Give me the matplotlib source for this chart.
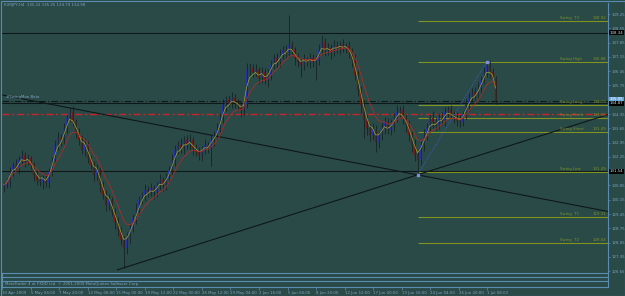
import numpy as np
import pandas as pd
import matplotlib
matplotlib.use("Agg")
import matplotlib.pyplot as plt
from matplotlib.transforms import blended_transform_factory

# ===============================
# Data (EURJPY H4)
# ===============================
FIRST_OPEN = 130.75

CLOSES = [
    130.88, 131.02, 131.51, 131.86, 131.71, 132.10, 132.35, 132.00, 132.20, 131.86, 131.37, 131.12, 131.02, 131.22, 130.97,
    131.51, 132.10, 132.84, 133.18, 133.08, 133.67, 134.16, 134.45, 133.96, 133.47, 133.08, 132.59, 132.84, 132.20, 131.86,
    131.37, 131.61, 130.88, 130.39, 129.90, 130.14, 129.55, 129.06, 128.67, 128.18, 127.79, 128.28, 128.77, 129.26, 129.65,
    130.14, 130.39, 130.63, 130.53, 130.73, 130.53, 130.83, 131.12, 130.88, 131.22, 131.61, 132.10, 132.59, 132.84, 132.69,
    133.08, 132.84, 133.08, 132.69, 132.49, 132.35, 132.59, 132.84, 132.69, 133.08, 133.33, 133.57, 134.16, 134.80, 135.04,
    134.89, 135.14, 134.94, 134.75, 134.55, 134.84, 136.51, 136.61, 136.41, 136.51, 136.12, 136.41, 136.02, 136.27, 136.76,
    137.10, 136.90, 137.25, 137.49, 137.39, 137.74, 137.49, 137.10, 136.90, 136.76, 137.00, 136.90, 137.10, 136.90, 137.00,
    137.49, 137.88, 137.49, 137.59, 137.39, 137.69, 137.59, 137.74, 137.59, 137.69, 137.39, 137.00, 136.27, 135.53, 134.80,
    134.06, 133.67, 133.33, 133.57, 132.98, 133.33, 133.67, 133.96, 133.57, 133.82, 134.16, 134.45, 134.55, 134.16, 133.82,
    133.33, 132.84, 132.35, 132.10, 132.84, 133.33, 133.67, 134.16, 133.96, 133.82, 134.16, 134.06, 134.45, 134.55, 134.31,
    134.16, 134.06, 133.96, 134.31, 134.80, 135.14, 135.43, 135.29, 135.63, 136.02, 136.41, 136.71, 136.41, 136.12, 134.98,
]

UP_WICK = [
    0.15, 0.20, 0.25, 0.15, 0.30, 0.20, 0.25, 0.15, 0.20, 0.10, 0.15, 0.25, 0.20, 0.15, 0.20,
    0.20, 0.15, 0.25, 0.30, 0.20, 0.25, 0.15, 0.20, 0.30, 0.15, 0.20, 0.25, 0.35, 0.20, 0.15,
    0.20, 0.30, 0.15, 0.20, 0.25, 0.30, 0.15, 0.20, 0.25, 0.15, 0.20, 0.30, 0.25, 0.20, 0.35,
    0.20, 0.15, 0.30, 0.20, 0.25, 0.15, 0.20, 0.30, 0.15, 0.25, 0.20, 0.30, 0.25, 0.20, 0.35,
    0.20, 0.25, 0.30, 0.15, 0.20, 0.25, 0.20, 0.30, 0.15, 0.25, 0.20, 0.35, 0.25, 0.30, 0.20,
    0.25, 0.30, 0.20, 0.15, 0.25, 0.20, 0.35, 0.25, 0.20, 0.30, 0.15, 0.25, 0.20, 0.30, 0.25,
    0.20, 0.25, 0.30, 0.20, 0.25, 1.46, 0.20, 0.15, 0.25, 0.20, 0.30, 0.15, 0.25, 0.20, 0.25,
    0.30, 0.35, 0.20, 0.25, 0.20, 0.30, 0.25, 0.20, 0.30, 0.15, 0.25, 0.20, 0.30, 0.25, 0.20,
    0.25, 0.30, 0.20, 0.35, 0.25, 0.20, 0.30, 0.25, 0.20, 0.30, 0.25, 0.35, 0.20, 0.25, 0.20,
    0.25, 0.20, 0.30, 0.25, 0.20, 0.30, 0.25, 0.20, 0.35, 0.25, 0.20, 0.30, 0.25, 0.20, 0.25,
    0.20, 0.30, 0.25, 0.20, 0.30, 0.25, 0.20, 0.25, 0.30, 0.20, 0.25, 0.19, 0.25, 0.20, 0.10,
]

DOWN_WICK = [
    0.20, 0.15, 0.25, 0.20, 0.15, 0.30, 0.20, 0.25, 0.15, 0.20, 0.30, 0.25, 0.20, 0.35, 0.20,
    0.25, 0.20, 0.15, 0.25, 0.30, 0.20, 0.25, 0.15, 0.20, 0.30, 0.25, 0.20, 0.30, 0.25, 0.20,
    0.30, 0.25, 0.35, 0.20, 0.30, 0.25, 0.20, 0.35, 0.30, 0.25, 0.98, 0.30, 0.25, 0.20, 0.30,
    0.25, 0.20, 0.30, 0.25, 0.20, 0.35, 0.25, 0.20, 0.30, 0.25, 0.20, 0.25, 0.30, 0.20, 0.25,
    0.30, 0.20, 0.25, 0.35, 0.20, 0.25, 0.30, 0.20, 0.25, 0.90, 0.30, 0.25, 0.20, 0.25, 0.30,
    0.20, 0.25, 0.30, 0.20, 0.35, 0.25, 0.20, 0.30, 0.25, 0.20, 0.30, 0.25, 0.20, 0.35, 0.25,
    0.20, 0.30, 0.25, 0.20, 0.30, 0.25, 0.20, 0.35, 0.25, 0.60, 0.25, 0.20, 0.30, 0.25, 0.90,
    0.25, 0.20, 0.30, 0.25, 0.35, 0.20, 0.25, 0.30, 0.20, 0.25, 0.30, 0.35, 0.25, 0.30, 0.40,
    0.90, 0.35, 0.30, 0.25, 0.50, 0.30, 0.25, 0.30, 0.20, 0.25, 0.30, 0.20, 0.25, 0.30, 0.35,
    0.30, 0.35, 0.30, 0.73, 0.25, 0.30, 0.25, 0.20, 0.30, 0.25, 0.20, 0.25, 0.30, 0.25, 0.20,
    0.25, 0.30, 0.25, 0.20, 0.25, 0.30, 0.20, 0.25, 0.20, 0.25, 0.20, 0.25, 0.30, 0.25, 0.15,
]

# swing levels drawn from the swing-low bar to the right edge
SWING_NAMES = ["Swing  T3", "Swing High", "Swing Long", "Swing Profit", "Swing Short",
               "Swing Low", "Swing  T1", "Swing  T2"]
SWING_LEVELS = [138.92, 136.88, 134.79, 134.16, 133.49, 131.49, 129.31, 128.04]
SWING_LOW_BAR = 138
SWING_HIGH_BAR = 161

# plain horizontal lines
SOLID_LEVELS = [138.34, 134.87, 131.54]
BID_LEVEL = 134.98
RED_LEVEL = 134.35

# trendlines: (bar, price) anchors
TREND_DOWN = [(22, 134.65), (138, 131.37)]
TREND_UP = [(40, 126.81), (138, 131.37)]
TREND_UP_START = 38

PRICE_TICKS = [139.25, 138.55, 137.85, 137.15, 136.45, 135.75, 135.05, 134.35, 133.65,
               132.95, 132.25, 131.55, 130.85, 130.15, 129.45, 128.75, 128.05, 127.35, 126.65]
# ticks hidden behind the price boxes
HIDDEN_TICKS = [135.05, 131.55]

TIME_LABELS = ["30 Apr 2009", "5 May 04:00", "7 May 20:00", "12 May 08:00", "15 May 00:00",
               "19 May 12:00", "22 May 00:00", "26 May 12:00", "29 May 04:00", "2 Jun 16:00",
               "5 Jun 08:00", "8 Jun 20:00", "12 Jun 12:00", "17 Jun 00:00", "19 Jun 16:00",
               "24 Jun 04:00", "26 Jun 20:00", "1 Jul 08:00"]

# ===============================
# Colours
# ===============================
BG = "#2a4a48"
FRAME = "#5a8cb0"
TXT = "#7ea3bf"
OLIVE = "#7f9222"
UP_C = "#2234a8"
DN_C = "#6e1b16"
WICK_C = "#121c1c"
BLACK_L = "#0e1818"
FS = 2.8

W, H = 625, 296


def fx(px):
    return px / W


def fy(py):
    return 1 - py / H


fig = plt.figure(figsize=(W / 100, H / 100), dpi=100, facecolor=BG)

XMIN, XMAX = -0.5, 201.5

# ===============================
# Main price window
# ===============================
ax = fig.add_axes([fx(2), fy(273), fx(608) - fx(2), fy(3) - fy(273)])
ax.set_facecolor(BG)
ax.set_xlim(XMIN, XMAX)
ax.set_ylim(126.56, 139.79)

closes = np.array(CLOSES)
opens = np.concatenate([[FIRST_OPEN], closes[:-1]])
idx = np.arange(len(closes))
highs = np.maximum(opens, closes) + np.array(UP_WICK)
lows = np.minimum(opens, closes) - np.array(DOWN_WICK)
up = closes >= opens

ax.vlines(idx, lows, highs, color=WICK_C, lw=0.5, zorder=3)
ax.bar(idx[up], (closes - opens)[up], bottom=opens[up], width=0.65,
       color=UP_C, edgecolor=UP_C, lw=0.3, zorder=4)
ax.bar(idx[~up], (closes - opens)[~up], bottom=opens[~up], width=0.65,
       color=DN_C, edgecolor=DN_C, lw=0.3, zorder=4)

# moving averages
s = pd.Series(closes)
ax.plot(idx, s.ewm(span=3).mean(), color="#a9a22e", lw=0.5, zorder=5)
ax.plot(idx, s.ewm(span=8).mean(), color="#b8282a", lw=0.55, zorder=5)

# horizontal lines
for lv in SOLID_LEVELS:
    ax.axhline(lv, color=BLACK_L, lw=0.8, zorder=2)
ax.axhline(BID_LEVEL, color=BLACK_L, lw=0.8, ls=(0, (6, 2, 1, 2)), zorder=2)
ax.axhline(RED_LEVEL, color="#c8242a", lw=1.0, ls=(0, (5, 2, 1.5, 2)), zorder=2)

# swing levels
for name, lv in zip(SWING_NAMES, SWING_LEVELS):
    ax.hlines(lv, SWING_LOW_BAR, XMAX, color=OLIVE, lw=0.8, zorder=2)
    ax.text(185.5, lv + 0.05, name, fontsize=FS, color=OLIVE, va="bottom", ha="left")
    ax.text(200.8, lv + 0.05, f"{lv:.2f}", fontsize=FS, color=OLIVE, va="bottom", ha="right")

# trendlines
(x0, y0), (x1, y1) = TREND_DOWN
k = (y1 - y0) / (x1 - x0)
ax.plot([XMIN, XMAX], [y0 + k * (XMIN - x0), y0 + k * (XMAX - x0)], color=BLACK_L, lw=0.8, zorder=2)
(x0, y0), (x1, y1) = TREND_UP
k = (y1 - y0) / (x1 - x0)
ax.plot([TREND_UP_START, XMAX], [y0 + k * (TREND_UP_START - x0), y0 + k * (XMAX - x0)],
        color=BLACK_L, lw=0.8, zorder=2)

# swing low -> swing high dotted
ax.plot([SWING_LOW_BAR, SWING_HIGH_BAR], [lows[SWING_LOW_BAR], highs[SWING_HIGH_BAR]],
        color="#3a5ad0", lw=0.6, ls=(0, (1.5, 1.5)), zorder=6)
ax.plot([SWING_LOW_BAR, SWING_HIGH_BAR], [lows[SWING_LOW_BAR], highs[SWING_HIGH_BAR]],
        ls="none", marker="s", ms=1.5, color="#8090e0", zorder=7)

# right price scale
ax.yaxis.tick_right()
ax.set_yticks(PRICE_TICKS)
ax.set_yticklabels(["" if t in HIDDEN_TICKS else f"{t:.2f}" for t in PRICE_TICKS])
ax.tick_params(axis="y", labelsize=FS, colors=FRAME, labelcolor=TXT, length=1.5, width=0.5, pad=1)
ax.set_xticks([])
for side in ["left", "top", "bottom"]:
    ax.spines[side].set_visible(False)
ax.spines["right"].set_color(FRAME)
ax.spines["right"].set_linewidth(0.8)

tr = blended_transform_factory(ax.transAxes, ax.transData)
for lv in SOLID_LEVELS:
    ax.text(1.003, lv, f"{lv:.2f}", transform=tr, fontsize=FS, color="#d8e0e0", va="center",
            ha="left", bbox=dict(boxstyle="square,pad=0.1", fc="#000000", ec="none"),
            clip_on=False, zorder=10)
ax.text(1.003, 135.09, "135.05", transform=tr, fontsize=FS, color="#ffffff", va="center",
        ha="left", bbox=dict(boxstyle="square,pad=0.1", fc="#6aa6d8", ec="none"),
        clip_on=False, zorder=10)

# chart header + indicator name
fig.text(fx(4), fy(5), "EURJPY,H4  135.22 135.25 134.79 134.98", fontsize=FS, color=TXT, va="center")
ax.text(1, 135.08, "#SwingMan Beta", fontsize=FS, color=TXT, va="bottom", ha="left")

# ===============================
# Bottom strip + time scale
# ===============================
sub = fig.add_axes([fx(2), fy(287), fx(608) - fx(2), fy(273) - fy(287)])
sub.set_facecolor(BG)
sub.set_xlim(XMIN, XMAX)
sub.set_ylim(0, 1)
sub.set_yticks([])
for side in sub.spines:
    sub.spines[side].set_color(FRAME)
    sub.spines[side].set_linewidth(0.8)
for yy in [0.72, 0.45]:
    sub.axhline(yy, color=FRAME, lw=0.8)
sub.text(0.3, 0.22, "MetaTrader 4 at FXDD Ltd. \u00a9 2001-2009 MetaQuotes Software Corp.",
         fontsize=FS, color=TXT, va="center", ha="left")

tick_px = 1 + 28.6 * np.arange(len(TIME_LABELS))
tick_pos = (tick_px - 3.5) / 3
sub.set_xticks(tick_pos)
sub.set_xticklabels(TIME_LABELS, ha="left")
sub.tick_params(axis="x", labelsize=FS, colors=FRAME, labelcolor=TXT, length=2, width=0.5, pad=1)

# outer frame
fig.add_artist(plt.Rectangle((0.5 / W, 0.5 / H), 1 - 1 / W, 1 - 1 / H, transform=fig.transFigure,
                             fill=False, ec=FRAME, lw=0.8))

fig.savefig("out.png", dpi=100, facecolor=BG)
